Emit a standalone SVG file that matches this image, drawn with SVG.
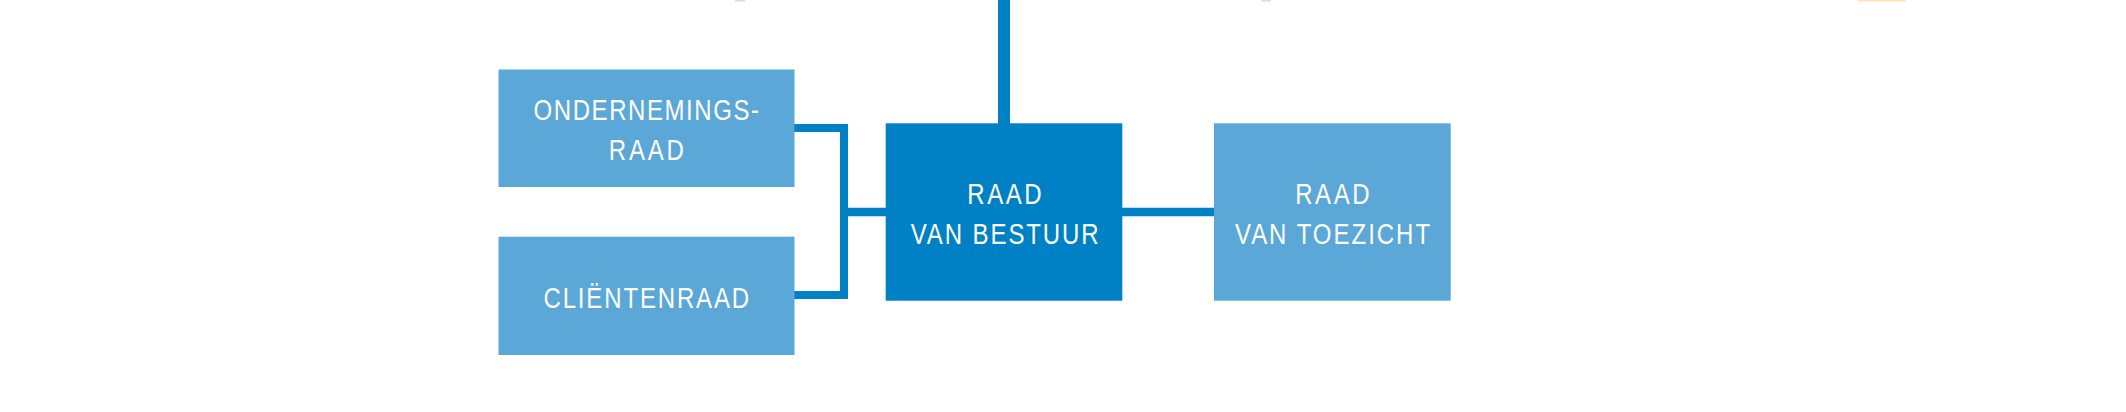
<svg xmlns="http://www.w3.org/2000/svg" width="2126" height="412" viewBox="0 0 2126 412">
<style>
.light{fill:#5BA7D8;}
.dark{fill:#0081C5;}
.lbl{font-family:"Liberation Sans",Arial,sans-serif;font-size:30px;fill:#FFFFFF;text-anchor:middle;}
.conn{fill:none;stroke:#0081C5;stroke-linecap:butt;stroke-linejoin:miter;}
</style>
<rect width="2126" height="412" fill="#FFFFFF"/>
<g id="top-fragments">
<rect x="735" y="0" width="10" height="1.5" fill="#C9E2F4"/>
<rect x="1261" y="0" width="10" height="1.5" fill="#C9E2F4"/>
<rect x="1857" y="0" width="49" height="1.5" fill="#FCE7B8"/>
</g>
<g id="connectors">
<line class="conn" x1="1004" y1="0" x2="1004" y2="124" stroke-width="12"/>
<polyline class="conn" points="794,128 844,128 844,295 794,295" stroke-width="8"/>
<line class="conn" x1="844" y1="212" x2="886" y2="212" stroke-width="8.5"/>
<line class="conn" x1="1122" y1="212" x2="1214" y2="212" stroke-width="8.5"/>
</g>
<g id="ondernemingsraad">
<rect class="light" x="498.5" y="69.5" width="296" height="117.5"/>
<text class="lbl" transform="translate(646.3,120) scale(0.8,1)" x="0" y="0" textLength="282" lengthAdjust="spacing">ONDERNEMINGS-</text>
<text class="lbl" transform="translate(646.3,160) scale(0.8,1)" x="0" y="0" textLength="94" lengthAdjust="spacing">RAAD</text>
</g>
<g id="clientenraad">
<rect class="light" x="498.5" y="236.7" width="296" height="118.3"/>
<text class="lbl" transform="translate(646.3,307.7) scale(0.8,1)" x="0" y="0" textLength="257" lengthAdjust="spacing">CLIËNTENRAAD</text>
</g>
<g id="raad-van-bestuur">
<rect class="dark" x="885.7" y="123.3" width="236.6" height="177.4"/>
<text class="lbl" transform="translate(1004.5,204) scale(0.8,1)" x="0" y="0" textLength="93" lengthAdjust="spacing">RAAD</text>
<text class="lbl" transform="translate(1004.7,243.7) scale(0.8,1)" x="0" y="0" textLength="235" lengthAdjust="spacing">VAN BESTUUR</text>
</g>
<g id="raad-van-toezicht">
<rect class="light" x="1214" y="123.3" width="236.7" height="177.4"/>
<text class="lbl" transform="translate(1332.4,204.3) scale(0.8,1)" x="0" y="0" textLength="93" lengthAdjust="spacing">RAAD</text>
<text class="lbl" transform="translate(1332.5,243.7) scale(0.8,1)" x="0" y="0" textLength="244" lengthAdjust="spacing">VAN TOEZICHT</text>
</g>
</svg>
